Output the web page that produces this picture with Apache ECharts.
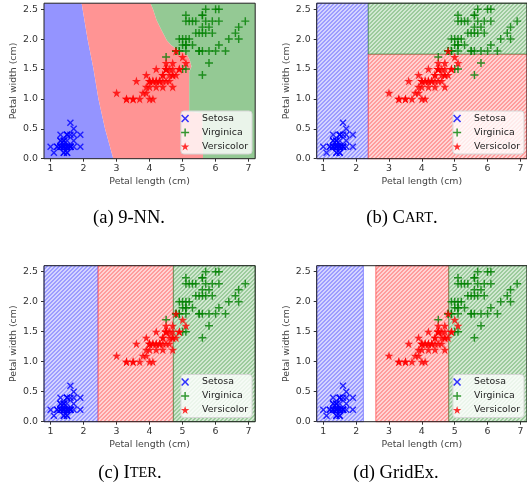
<!DOCTYPE html>
<html>
<head>
<meta charset="utf-8">
<script src="https://cdn.jsdelivr.net/npm/echarts@6/dist/echarts.min.js"></script>
<style>
  html, body { margin: 0; padding: 0; background: #fff; }
  #chart-container { width: 527px; height: 498px; }
</style>
</head>
<body>
<div id="chart-container"></div>
<script>
// iris petal measurements [length, width]
const setosa = [
  [1.4,0.2],[1.4,0.2],[1.3,0.2],[1.5,0.2],[1.4,0.2],[1.7,0.4],[1.4,0.3],[1.5,0.2],[1.4,0.2],[1.5,0.1],
  [1.5,0.2],[1.6,0.2],[1.4,0.1],[1.1,0.1],[1.2,0.2],[1.5,0.4],[1.3,0.4],[1.4,0.3],[1.7,0.3],[1.5,0.3],
  [1.7,0.2],[1.5,0.4],[1.0,0.2],[1.7,0.5],[1.9,0.2],[1.6,0.2],[1.6,0.4],[1.5,0.2],[1.4,0.2],[1.6,0.2],
  [1.6,0.2],[1.5,0.4],[1.5,0.1],[1.4,0.2],[1.5,0.2],[1.2,0.2],[1.3,0.2],[1.4,0.1],[1.3,0.2],[1.5,0.2],
  [1.3,0.3],[1.3,0.3],[1.3,0.2],[1.6,0.6],[1.9,0.4],[1.4,0.3],[1.6,0.2],[1.4,0.2],[1.5,0.2],[1.4,0.2]
];
const versicolor = [
  [4.7,1.4],[4.5,1.5],[4.9,1.5],[4.0,1.3],[4.6,1.5],[4.5,1.3],[4.7,1.6],[3.3,1.0],[4.6,1.3],[3.9,1.4],
  [3.5,1.0],[4.2,1.5],[4.0,1.0],[4.7,1.4],[3.6,1.3],[4.4,1.4],[4.5,1.5],[4.1,1.0],[4.5,1.5],[3.9,1.1],
  [4.8,1.8],[4.0,1.3],[4.9,1.5],[4.7,1.2],[4.3,1.3],[4.4,1.4],[4.8,1.4],[5.0,1.7],[4.5,1.5],[3.5,1.0],
  [3.8,1.1],[3.7,1.0],[3.9,1.2],[5.1,1.6],[4.5,1.5],[4.5,1.6],[4.7,1.5],[4.4,1.3],[4.1,1.3],[4.0,1.3],
  [4.4,1.2],[4.6,1.4],[4.0,1.2],[3.3,1.0],[4.2,1.3],[4.2,1.2],[4.2,1.3],[4.3,1.3],[3.0,1.1],[4.1,1.3]
];
const virginica = [
  [6.0,2.5],[5.1,1.9],[5.9,2.1],[5.6,1.8],[5.8,2.2],[6.6,2.1],[4.5,1.7],[6.3,1.8],[5.8,1.8],[6.1,2.5],
  [5.1,2.0],[5.3,1.9],[5.5,2.1],[5.0,2.0],[5.1,2.4],[5.3,2.3],[5.5,1.8],[6.7,2.2],[6.9,2.3],[5.0,1.5],
  [5.7,2.3],[4.9,2.0],[6.7,2.0],[4.9,1.8],[5.7,2.1],[6.0,1.8],[4.8,1.8],[4.9,1.8],[5.6,2.1],[5.8,1.6],
  [6.1,1.9],[6.4,2.0],[5.6,2.2],[5.1,1.5],[5.6,1.4],[6.1,2.3],[5.6,2.4],[5.5,1.8],[4.8,1.8],[5.4,2.1],
  [5.6,2.4],[5.1,2.3],[5.1,1.9],[5.9,2.3],[5.7,2.5],[5.2,2.3],[5.0,1.9],[5.2,2.0],[5.4,2.3],[5.1,1.8]
];

const xTicks = [1, 2, 3, 4, 5, 6, 7];
const yTicks = [0, 0.5, 1, 1.5, 2, 2.5];
const xRange = [0.8, 7.2];
const yRange = [0, 2.6];

// 9-NN decision boundaries, traced top to bottom
const knnSetosaEdge = [[1.94,2.6],[2.12,2.0],[2.3,1.5],[2.45,1.0],[2.65,0.5],[2.9,0]];
const knnVirginicaEdge = [[4.03,2.6],[4.11,2.49],[4.21,2.32],[4.36,2.15],[4.52,1.98],[4.65,1.9],
  [4.85,1.82],[5.12,1.76],[5.22,1.65],[5.27,1.54],[5.2,1.45],[5.2,0.79],[5.6,0.76],[5.62,0]];
// CART splits
const cartLengthSplit = 2.37;
const cartWidthSplit = 1.75;
// ITER cuts on petal length
const iterCuts = [2.44, 4.72];
// GridEx cells on petal length: setosa, versicolor, virginica
const gridexCells = [[0.8, 2.22], [2.6, 4.82], [4.82, 7.2]];

const captions = ['(a) 9-NN.', '(b) C{sc|ART}.', '(c) I{sc|TER}.', '(d) GridEx.'];

const FONT = 'DejaVu Sans';
const xPath = 'path://M-3.6,-5L0,-1.4L3.6,-5L5,-3.6L1.4,0L5,3.6L3.6,5L0,1.4L-3.6,5L-5,3.6L-1.4,0L-5,-3.6Z';
const plusPath = 'path://M-0.9,-5H0.9V-0.9H5V0.9H0.9V5H-0.9V0.9H-5V-0.9H-0.9Z';
const starPath = 'path://M0,-5L1.123,-1.545L4.755,-1.545L1.816,0.59L2.939,4.045L0,1.91L-2.939,4.045L-1.816,0.59L-4.755,-1.545L-1.123,-1.545Z';

function hatch(bg, fg) {
  const c = document.createElement('canvas');
  c.width = 4; c.height = 4;
  const g = c.getContext('2d');
  g.fillStyle = bg;
  g.fillRect(0, 0, 4, 4);
  g.fillStyle = fg;
  for (let i = 0; i < 4; i++)
    for (let j = 0; j < 4; j++)
      if ((i + j) % 4 < 2) g.fillRect(i, j, 1, 1);
  return { image: c, repeat: 'repeat' };
}

const solid = {
  blue: { fill: '#9494ff' },
  red: { fill: '#ff9494' },
  green: { fill: '#94c994' }
};
const hatched = {
  blue: { fill: hatch('#d4d4ff', '#9c9cff'), stroke: 'rgba(80,80,255,0.6)', lineWidth: 1 },
  red: { fill: hatch('#ffd4d4', '#ff9c9c'), stroke: 'rgba(255,60,60,0.7)', lineWidth: 1 },
  green: { fill: hatch('#d2e8d2', '#9ccb9c'), stroke: 'rgba(40,120,40,0.6)', lineWidth: 1 }
};

function rect(x0, x1, y0, y1) {
  return [[x0, y0], [x1, y0], [x1, y1], [x0, y1]];
}

const panels = [
  {
    regions: [
      { pts: [[xRange[0], 0], [xRange[0], 2.6]].concat(knnSetosaEdge), style: solid.blue },
      { pts: knnSetosaEdge.slice().reverse().concat(knnVirginicaEdge), style: solid.red },
      { pts: knnVirginicaEdge.concat([[xRange[1], 0], [xRange[1], 2.6]]), style: solid.green }
    ]
  },
  {
    regions: [
      { pts: rect(xRange[0], cartLengthSplit, 0, 2.6), style: hatched.blue },
      { pts: rect(cartLengthSplit, xRange[1], 0, cartWidthSplit), style: hatched.red },
      { pts: rect(cartLengthSplit, xRange[1], cartWidthSplit, 2.6), style: hatched.green }
    ]
  },
  {
    regions: [
      { pts: rect(xRange[0], iterCuts[0], 0, 2.6), style: hatched.blue },
      { pts: rect(iterCuts[0], iterCuts[1], 0, 2.6), style: hatched.red },
      { pts: rect(iterCuts[1], xRange[1], 0, 2.6), style: hatched.green }
    ]
  },
  {
    regions: [
      { pts: rect(gridexCells[0][0], gridexCells[0][1], 0, 2.6), style: hatched.blue },
      { pts: rect(gridexCells[1][0], gridexCells[1][1], 0, 2.6), style: hatched.red },
      { pts: rect(gridexCells[2][0], gridexCells[2][1], 0, 2.6), style: hatched.green }
    ]
  }
];

const grids = [
  { left: 44, top: 3.2, width: 211.2, height: 155.5 },
  { left: 316.7, top: 3.2, width: 211.2, height: 155.5 },
  { left: 44, top: 265.7, width: 211.2, height: 156 },
  { left: 316.7, top: 265.7, width: 211.2, height: 156 }
];
const legendPos = [
  { right: 275, bottom: 344 },
  { right: 3, bottom: 344 },
  { right: 275, bottom: 80.5 },
  { right: 3, bottom: 80.5 }
];
const captionPos = [[129, 218], [402, 218], [130, 473], [396, 473]];

const option = {
  animation: false,
  grid: grids.map(g => Object.assign({
    show: true, z: 3, borderColor: '#222', borderWidth: 1, backgroundColor: 'transparent'
  }, g)),
  xAxis: grids.map((g, i) => ({
    gridIndex: i, type: 'value', min: xRange[0], max: xRange[1],
    name: 'Petal length (cm)', nameLocation: 'middle', nameGap: 18,
    nameTextStyle: { fontFamily: FONT, fontSize: 9.4, color: '#444' },
    axisLine: { show: false },
    axisTick: { customValues: xTicks, length: 3, lineStyle: { color: '#333' } },
    axisLabel: { customValues: xTicks, margin: 5, fontFamily: FONT, fontSize: 9.4, color: '#333',
      formatter: v => String(v) },
    splitLine: { show: false }
  })),
  yAxis: grids.map((g, i) => ({
    gridIndex: i, type: 'value', min: yRange[0], max: yRange[1],
    name: 'Petal width (cm)', nameLocation: 'middle', nameGap: 26,
    nameTextStyle: { fontFamily: FONT, fontSize: 9.4, color: '#444' },
    axisLine: { show: false },
    axisTick: { customValues: yTicks, length: 3, lineStyle: { color: '#333' } },
    axisLabel: { customValues: yTicks, margin: 6, fontFamily: FONT, fontSize: 9.4, color: '#333',
      formatter: v => v.toFixed(1) },
    splitLine: { show: false }
  })),
  legend: legendPos.map(p => Object.assign({
    orient: 'vertical', itemWidth: 24, itemHeight: 8, itemGap: 5,
    padding: [3, 4, 3, 0], backgroundColor: 'rgba(255,255,255,0.8)',
    borderColor: '#d6d6d6', borderWidth: 1, borderRadius: 3, selectedMode: false,
    textStyle: { fontFamily: FONT, fontSize: 9.4, color: '#222' },
    data: [
      { name: 'Setosa', icon: xPath },
      { name: 'Virginica', icon: plusPath },
      { name: 'Versicolor', icon: starPath }
    ]
  }, p)),
  graphic: captions.map((t, i) => ({
    type: 'text', x: captionPos[i][0], y: captionPos[i][1],
    style: {
      text: t, fill: '#000', font: '18.5px "Liberation Serif"',
      textAlign: 'center', textVerticalAlign: 'middle',
      rich: { sc: { fontFamily: 'Liberation Serif', fontSize: 14.5, fill: '#000' } }
    }
  })),
  series: []
};

panels.forEach((panel, i) => {
  option.series.push({
    type: 'custom', xAxisIndex: i, yAxisIndex: i, silent: true, z: 1,
    data: panel.regions.map((r, k) => [r.pts[0][0], r.pts[0][1], k]),
    renderItem: (params, api) => {
      const r = panel.regions[params.dataIndex];
      return {
        type: 'polygon',
        shape: { points: r.pts.map(p => api.coord(p)) },
        style: Object.assign({}, r.style)
      };
    }
  });
  option.series.push(
    { type: 'scatter', name: 'Setosa', xAxisIndex: i, yAxisIndex: i, data: setosa,
      symbol: xPath, symbolSize: 7, itemStyle: { color: '#0000ff' }, z: 2, silent: true },
    { type: 'scatter', name: 'Virginica', xAxisIndex: i, yAxisIndex: i, data: virginica,
      symbol: plusPath, symbolSize: 8, itemStyle: { color: '#008000' }, z: 2, silent: true },
    { type: 'scatter', name: 'Versicolor', xAxisIndex: i, yAxisIndex: i, data: versicolor,
      symbol: starPath, symbolSize: 9, itemStyle: { color: '#ff0000' }, z: 2, silent: true }
  );
});

const chart = echarts.init(document.getElementById('chart-container'), null, { renderer: 'canvas' });
chart.setOption(option);
</script>
</body>
</html>
